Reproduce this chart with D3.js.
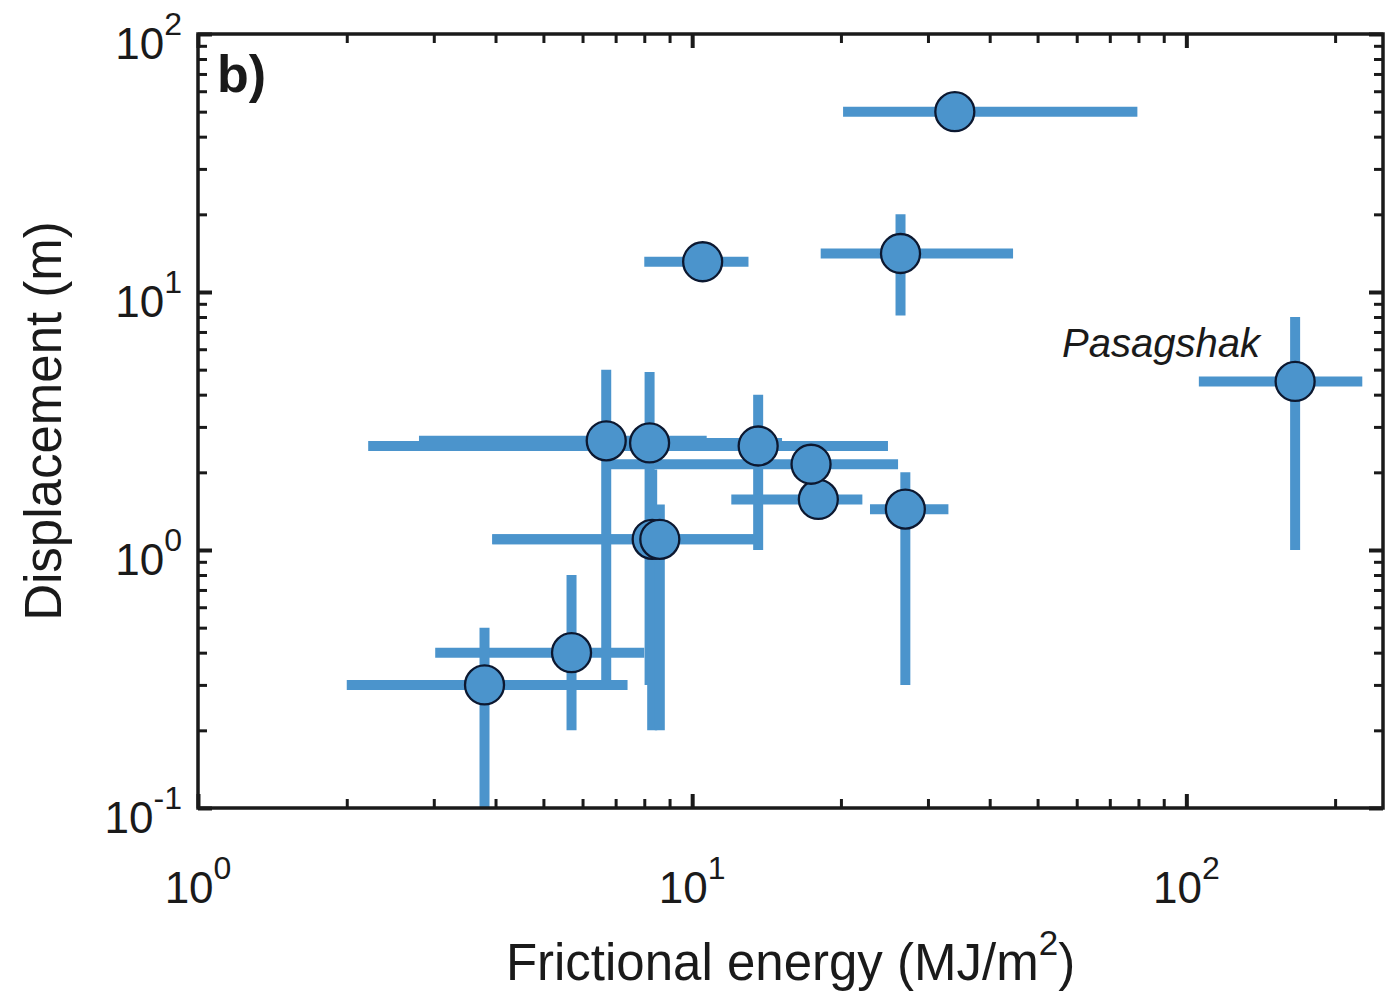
<html lang="en">
<head>
<meta charset="utf-8">
<title>Frictional energy vs displacement</title>
<script src="https://d3js.org/d3.v7.min.js"></script>
<style>
  body { margin: 0; background: #fff; }
  text { font-family: "Liberation Sans", Arial, Helvetica, sans-serif; fill: #1a1a1a; }
  .axis .domain { display: none; }
  .axis line { stroke: #1a1a1a; }
</style>
</head>
<body>
<script>
// one entry per event, in drawing order (later circles sit on top)
var energy   = [34, 10.5, 26.4, 166, 6.7, 8.2, 13.6, 18.0, 17.4, 27.0, 8.3, 8.6, 5.7, 3.8];
var energyLo = [20.2, 8.0, 18.2, 106, 2.8, 3.5, 2.21, 12.0, 6.73, 22.9, 3.94, 3.94, 3.02, 2.0];
var energyHi = [79.6, 13.0, 44.6, 227, 10.7, 15.2, 24.9, 22.1, 26.1, 33, 13.9, 13.9, 8.0, 7.4];
var displ    = [50, 13.1, 14.1, 4.5, 2.65, 2.6, 2.53, 1.57, 2.15, 1.44, 1.1, 1.1, 0.4, 0.3];
var displLo  = [null, null, 8.1, 1.0, 0.3, 0.3, 1.0, null, null, 0.3, 0.2, 0.2, 0.2, 0.1];
var displHi  = [null, null, 20, 8.0, 5.0, 4.9, 4.0, null, null, 2.0, 2.05, 1.5, 0.8, 0.5];

var xMajor = [1, 10, 100];
var xExp   = ["0", "1", "2"];
var xMinor = [2, 3, 4, 5, 6, 7, 8, 9, 20, 30, 40, 50, 60, 70, 80, 90, 200];
var yMajor = [0.1, 1, 10, 100];
var yExp   = ["-1", "0", "1", "2"];
var yMinor = [0.2, 0.3, 0.4, 0.5, 0.6, 0.7, 0.8, 0.9, 2, 3, 4, 5, 6, 7, 8, 9, 20, 30, 40, 50, 60, 70, 80, 90];

var W = 1393, H = 991;
var pL = 198, pR = 1383, pT = 34, pB = 808;
var blue = "#4b94cc";

var x = d3.scaleLog().domain([1, 250]).range([pL, pR]);
var y = d3.scaleLog().domain([0.1, 100]).range([pB, pT]);

var svg = d3.select("body").append("svg")
  .attr("width", W)
  .attr("height", H);

var pts = energy.map(function(e, i) {
  return { e: e, elo: energyLo[i], ehi: energyHi[i], d: displ[i], dlo: displLo[i], dhi: displHi[i] };
});

// error bars
var bars = svg.append("g");
pts.forEach(function(p) {
  bars.append("line")
    .attr("x1", x(p.elo)).attr("x2", x(p.ehi))
    .attr("y1", y(p.d)).attr("y2", y(p.d))
    .attr("stroke", blue).attr("stroke-width", 10);
  if (p.dlo != null) {
    bars.append("line")
      .attr("x1", x(p.e)).attr("x2", x(p.e))
      .attr("y1", y(p.dlo)).attr("y2", y(p.dhi))
      .attr("stroke", blue).attr("stroke-width", 10);
  }
});

// markers
svg.append("g").selectAll("circle")
  .data(pts)
  .enter()
  .append("circle")
  .attr("cx", function(d) { return x(d.e); })
  .attr("cy", function(d) { return y(d.d); })
  .attr("r", 19.5)
  .attr("fill", blue)
  .attr("stroke", "#0c1830")
  .attr("stroke-width", 2.3);

// ticks (inward, on all four sides)
function ticks(axisFn, vals, size, tr) {
  svg.append("g")
    .attr("class", "axis")
    .attr("transform", tr)
    .call(axisFn.tickValues(vals).tickSize(size).tickFormat(""))
    .selectAll("line").attr("stroke-width", size < -10 ? 4 : 3);
}
ticks(d3.axisBottom(x), xMinor, -9, "translate(0," + pB + ")");
ticks(d3.axisBottom(x), xMajor, -14, "translate(0," + pB + ")");
ticks(d3.axisTop(x), xMinor, -9, "translate(0," + pT + ")");
ticks(d3.axisTop(x), xMajor, -14, "translate(0," + pT + ")");
ticks(d3.axisLeft(y), yMinor, -9, "translate(" + pL + ",0)");
ticks(d3.axisLeft(y), yMajor, -14, "translate(" + pL + ",0)");
ticks(d3.axisRight(y), yMinor, -9, "translate(" + pR + ",0)");
ticks(d3.axisRight(y), yMajor, -14, "translate(" + pR + ",0)");

// box
svg.append("rect")
  .attr("x", pL).attr("y", pT)
  .attr("width", pR - pL).attr("height", pB - pT)
  .attr("fill", "none")
  .attr("stroke", "#1a1a1a")
  .attr("stroke-width", 3.5);

// tick labels 10^n
xMajor.forEach(function(v, i) {
  var t = svg.append("text")
    .attr("x", x(v)).attr("y", 903)
    .attr("text-anchor", "middle")
    .style("font-size", "44px");
  t.append("tspan").text("10");
  t.append("tspan").attr("dy", -24).style("font-size", "32px").text(xExp[i]);
});
yMajor.forEach(function(v, i) {
  var t = svg.append("text")
    .attr("x", 182).attr("y", y(v) + 25)
    .attr("text-anchor", "end")
    .style("font-size", "44px");
  t.append("tspan").text("10");
  t.append("tspan").attr("dy", -24).style("font-size", "32px").text(yExp[i]);
});

// axis titles
var xl = svg.append("text")
  .attr("x", (pL + pR) / 2).attr("y", 980)
  .attr("text-anchor", "middle")
  .style("font-size", "51px");
xl.append("tspan").text("Frictional energy (MJ/m");
xl.append("tspan").attr("dy", -25).style("font-size", "35px").text("2");
xl.append("tspan").attr("dy", 25).text(")");

svg.append("text")
  .attr("transform", "translate(61," + ((pT + pB) / 2) + ") rotate(-90)")
  .attr("text-anchor", "middle")
  .style("font-size", "51px")
  .text("Displacement (m)");

// panel letter and annotation
svg.append("text")
  .attr("x", 217).attr("y", 92)
  .style("font-size", "52px")
  .style("font-weight", "bold")
  .text("b)");

svg.append("text")
  .attr("x", 1062).attr("y", 357)
  .style("font-size", "40px")
  .style("font-style", "italic")
  .text("Pasagshak");
</script>
</body>
</html>
